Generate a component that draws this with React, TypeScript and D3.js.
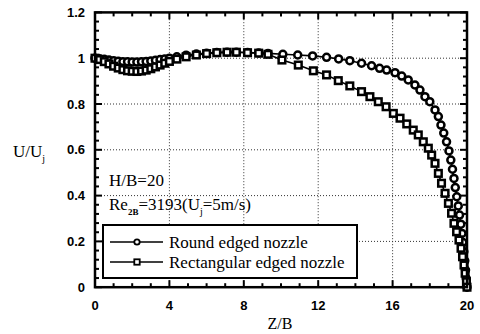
import React from "react";
import * as d3 from "d3";

const roundZ = [0,0.25,0.5,0.75,1.0,1.25,1.5,1.75,2.0,2.25,2.5,2.75,3.0,3.25,3.5,3.75,4.0,4.4,4.9,5.45,6.0,6.55,7.1,7.6,8.2,8.8,9.3,10.1,10.9,11.7,12.45,13.1,13.7,14.33,14.87,15.3,15.68,16.13,16.49,16.84,17.2,17.47,17.74,18.0,18.28,18.46,18.6,18.75,18.9,19.03,19.13,19.22,19.3,19.37,19.45,19.53,19.6,19.67,19.73,19.78,19.83,19.88,19.92,19.96,20];
const roundU = [1.0,0.998,0.995,0.992,0.989,0.987,0.985,0.984,0.983,0.983,0.984,0.986,0.988,0.991,0.994,0.997,1.0,1.006,1.013,1.018,1.022,1.025,1.026,1.026,1.025,1.023,1.021,1.017,1.014,1.010,1.004,0.997,0.989,0.978,0.967,0.956,0.948,0.937,0.922,0.905,0.883,0.861,0.832,0.81,0.774,0.745,0.708,0.673,0.635,0.595,0.555,0.515,0.475,0.435,0.395,0.355,0.315,0.275,0.235,0.195,0.155,0.115,0.075,0.038,0];

const rectZ = [0,0.25,0.5,0.75,1.0,1.25,1.5,1.75,2.0,2.25,2.5,2.75,3.0,3.25,3.5,3.75,4.0,4.4,4.9,5.45,6.0,6.55,7.1,7.6,8.2,8.8,9.3,10.05,10.93,11.74,12.45,13.08,13.7,14.33,14.78,15.23,15.65,16.04,16.4,16.76,17.11,17.38,17.65,17.92,18.1,18.28,18.46,18.63,18.82,19.0,19.17,19.3,19.44,19.57,19.68,19.76,19.84,19.9,19.97,20];
const rectU = [1.0,0.994,0.985,0.975,0.965,0.957,0.95,0.945,0.943,0.942,0.944,0.948,0.954,0.962,0.97,0.978,0.986,0.996,1.006,1.014,1.02,1.024,1.026,1.026,1.024,1.022,1.017,0.992,0.97,0.945,0.927,0.902,0.879,0.854,0.832,0.81,0.788,0.759,0.738,0.713,0.686,0.665,0.635,0.607,0.577,0.541,0.497,0.454,0.41,0.366,0.323,0.279,0.242,0.206,0.17,0.133,0.097,0.061,0.024,0];

const xTicks = [0, 4, 8, 12, 16, 20];
const yTicks = [0, 0.2, 0.4, 0.6, 0.8, 1, 1.2];
const legendLabels = ["Round edged nozzle", "Rectangular edged nozzle"];

const serifStyle = { fontFamily: "Liberation Serif, DejaVu Serif, serif" };
const sansStyle = { fontFamily: "Liberation Sans, Arial, sans-serif", fontWeight: 700 as const };

export default function App() {
  const x = d3.scaleLinear().domain([0, 20]).range([95, 467]);
  const y = d3.scaleLinear().domain([0, 1.2]).range([287.2, 12.4]);
  const line = d3.line<[number, number]>().x(d => x(d[0])).y(d => y(d[1]));
  const roundPts: [number, number][] = roundZ.map((z, i) => [z, roundU[i]]);
  const rectPts: [number, number][] = rectZ.map((z, i) => [z, rectU[i]]);

  const xMinor = d3.range(0, 21, 1);
  const yMinor = d3.range(0, 1.2001, 0.04);
  const isMajorX = (v: number) => Math.abs(v % 4) < 1e-6;
  const isMajorY = (v: number) => Math.abs(Math.round(v / 0.2) * 0.2 - v) < 1e-6;

  const [x0, x1] = x.range();
  const [y0, y1] = y.range();

  return (
    <svg width={480} height={334} style={{ position: "absolute", left: 0, top: 0, background: "#fff" }}>
      {xTicks.filter(v => v > 0 && v < 20).map(v => (
        <line key={"gx" + v} x1={x(v)} x2={x(v)} y1={y0} y2={y1} stroke="#333" strokeWidth={1} strokeDasharray="1,2" />
      ))}
      {yTicks.filter(v => v > 0 && v < 1.2).map(v => (
        <line key={"gy" + v} x1={x0} x2={x1} y1={y(v)} y2={y(v)} stroke="#333" strokeWidth={1} strokeDasharray="1,2" />
      ))}
      {xMinor.map(v => {
        const L = isMajorX(v) ? 7 : 4;
        return (
          <g key={"tx" + v}>
            <line x1={x(v)} x2={x(v)} y1={y0} y2={y0 - L} stroke="#000" strokeWidth={2} />
            <line x1={x(v)} x2={x(v)} y1={y1} y2={y1 + L} stroke="#000" strokeWidth={2} />
          </g>
        );
      })}
      {yMinor.map((v, i) => {
        const L = isMajorY(v) ? 7 : 4;
        return (
          <g key={"ty" + i}>
            <line x1={x0} x2={x0 + L} y1={y(v)} y2={y(v)} stroke="#000" strokeWidth={2} />
            <line x1={x1} x2={x1 - L} y1={y(v)} y2={y(v)} stroke="#000" strokeWidth={2} />
          </g>
        );
      })}
      <path d={line(roundPts) || ""} fill="none" stroke="#000" strokeWidth={1.6} />
      <path d={line(rectPts) || ""} fill="none" stroke="#000" strokeWidth={1.6} />
      {roundPts.map((d, i) => (
        <circle key={"c" + i} cx={x(d[0])} cy={y(d[1])} r={3.5} fill="#fff" stroke="#000" strokeWidth={2.5} />
      ))}
      {rectPts.map((d, i) => (
        <rect key={"r" + i} x={x(d[0]) - 3.3} y={y(d[1]) - 3.3} width={6.6} height={6.6} fill="#fff" stroke="#000" strokeWidth={2.5} />
      ))}
      <rect x={x0} y={y1} width={x1 - x0} height={y0 - y1} fill="none" stroke="#000" strokeWidth={2.5} />
      {yTicks.map(v => (
        <text key={"yl" + v} x={85} y={y(v)} dy="0.35em" textAnchor="end" fontSize={13} style={sansStyle}>
          {String(v)}
        </text>
      ))}
      {xTicks.map(v => (
        <text key={"xl" + v} x={x(v)} y={310} textAnchor="middle" fontSize={13} style={sansStyle}>
          {String(v)}
        </text>
      ))}
      <text x={280} y={329} textAnchor="middle" fontSize={16} style={serifStyle}>Z/B</text>
      <text x={13} y={157} fontSize={17} style={serifStyle}>
        U/U<tspan fontSize={10} dy={5}>j</tspan>
      </text>
      <text x={109} y={186} fontSize={17} style={serifStyle}>H/B=20</text>
      <text x={109} y={210} fontSize={17} style={serifStyle}>
        Re<tspan fontSize={9} dy={5} fontWeight="bold">2B</tspan>
        <tspan dy={-5}>=3193(U</tspan>
        <tspan fontSize={10} dy={5}>j</tspan>
        <tspan dy={-5}>=5m/s)</tspan>
      </text>
      <rect x={103} y={225} width={254} height={53} fill="#fff" stroke="#000" strokeWidth={2} />
      {legendLabels.map((lab, i) => {
        const ry = 242 + i * 20;
        return (
          <g key={"lg" + i}>
            <line x1={110} x2={163} y1={ry} y2={ry} stroke="#000" strokeWidth={1.4} />
            {i === 0 ? (
              <circle cx={137} cy={ry} r={2.7} fill="#fff" stroke="#000" strokeWidth={1.8} />
            ) : (
              <rect x={134.3} y={ry - 2.7} width={5.4} height={5.4} fill="#fff" stroke="#000" strokeWidth={1.8} />
            )}
            <text x={169} y={ry + 5.5} fontSize={17} style={serifStyle}>{lab}</text>
          </g>
        );
      })}
    </svg>
  );
}
